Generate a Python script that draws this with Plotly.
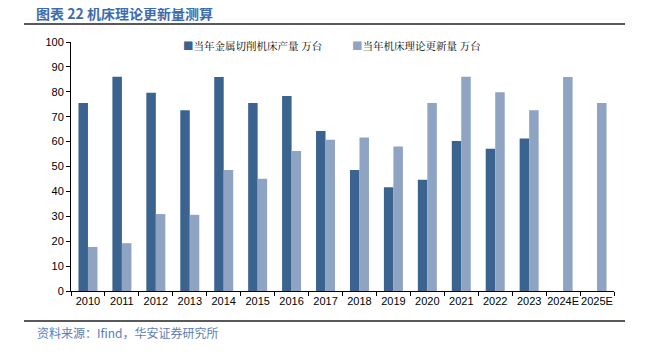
import plotly.graph_objects as go

categories = ["2010", "2011", "2012", "2013", "2014", "2015", "2016", "2017",
              "2018", "2019", "2020", "2021", "2022", "2023", "2024E", "2025E"]
production = [75.5, 86.0, 79.6, 72.6, 85.9, 75.5, 78.3, 64.3,
              48.6, 41.7, 44.7, 60.2, 57.1, 61.2, None, None]
replacement = [17.7, 19.2, 30.9, 30.6, 48.6, 45.1, 56.2, 60.7,
               61.6, 58.0, 75.5, 86.0, 79.8, 72.6, 85.9, 75.5]
series_names = ["当年金属切削机床产量 万台", "当年机床理论更新量 万台"]
series_colors = ["#3B6390", "#8FA3C3"]
y_ticks = [0, 10, 20, 30, 40, 50, 60, 70, 80, 90, 100]

# page body has an 8px default margin; work in page pixel coordinates
O = 8
W, H = 629, 339
PL, PR, PT, PB = 71, 614, 42, 291  # plot area in page pixels
L, R, T, B = PL - O, (O + W) - PR, PT - O, (O + H) - PB

def px_x(x):
    return (x - PL) / (PR - PL)

def px_y(y):
    return (PB - y) / (PB - PT)

fig = go.Figure()
for name, vals, col in zip(series_names, [production, replacement], series_colors):
    fig.add_trace(go.Bar(x=categories, y=vals, name=name,
                         marker=dict(color=col, line=dict(width=0))))

legend_x = [181, 350]
legend_ann = []
for name, col, lx in zip(series_names, series_colors, legend_x):
    legend_ann.append(dict(
        text=f"<span style='color:{col}'>■</span>{name}", xref="paper", yref="paper",
        x=px_x(lx), y=px_y(46), xanchor="left", yanchor="middle", showarrow=False,
        font=dict(family="Noto Serif CJK SC, Noto Sans CJK SC", size=10.5, color="#000")))

fig.update_layout(
    width=W, height=H,
    margin=dict(l=L, r=R, t=T, b=B),
    paper_bgcolor="white", plot_bgcolor="white",
    barmode="group", bargap=0.44, bargroupgap=0,
    font=dict(family="Liberation Sans, Arial", size=11, color="#000000"),
    showlegend=False,
    xaxis=dict(type="category", showline=True, linecolor="#000", linewidth=1,
               ticks="outside", ticklen=4, tickcolor="#000", tickson="boundaries",
               showgrid=False, tickangle=0, tickfont=dict(size=11)),
    yaxis=dict(range=[0, 100], tickvals=y_ticks, showline=True, linecolor="#000", linewidth=1,
               ticks="outside", ticklen=4, tickcolor="#000", showgrid=False, zeroline=False,
               tickfont=dict(size=11)),
    shapes=[
        dict(type="line", xref="paper", yref="paper", x0=px_x(24), x1=px_x(625),
             y0=px_y(24), y1=px_y(24), line=dict(color="#222", width=1.5)),
        dict(type="line", xref="paper", yref="paper", x0=px_x(24), x1=px_x(625),
             y0=px_y(321), y1=px_y(321), line=dict(color="#222", width=1.5)),
    ],
    annotations=legend_ann + [
        dict(text="<b>图表 22 机床理论更新量测算</b>", xref="paper", yref="paper",
             x=px_x(35), y=px_y(13), xanchor="left", yanchor="middle", showarrow=False,
             borderpad=0, font=dict(family="Noto Sans CJK SC", size=14, color="#3E6BAE")),
        dict(text="资料来源：Ifind，华安证券研究所", xref="paper", yref="paper",
             x=px_x(35), y=px_y(333), xanchor="left", yanchor="middle", showarrow=False,
             font=dict(family="Noto Sans CJK SC", size=12, color="#5B7DB5")),
    ],
)

fig.write_html("out.html")
